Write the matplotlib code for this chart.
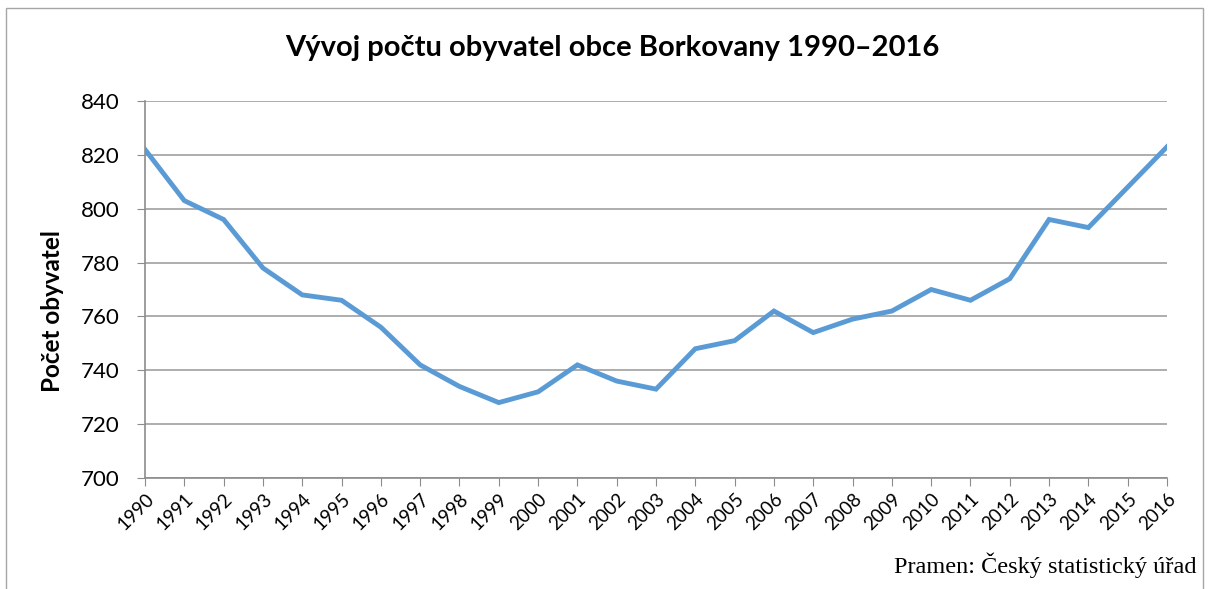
import matplotlib
matplotlib.use("Agg")
from matplotlib import pyplot as plt
from matplotlib.patches import Rectangle

# data
years = [str(y) for y in range(1990, 2017)]
population = [822, 803, 796, 778, 768, 766, 756, 742, 734, 728, 732, 742, 736, 733,
              748, 751, 762, 754, 759, 762, 770, 766, 774, 796, 793, 808, 823]
y_ticks = [700, 720, 740, 760, 780, 800, 820, 840]

W, H = 1212, 589
fig = plt.figure(figsize=(W / 100, H / 100), dpi=100)
ax = fig.add_axes([145 / W, 1 - 478 / H, (1167 - 145) / W, (478 - 101) / H])

# outer chart frame
fig.patches.append(Rectangle((6 / W, -0.1), (1203 - 6) / W, 1.1 - 8 / H,
                             transform=fig.transFigure, fill=False,
                             edgecolor='#a6a6a6', linewidth=1))

x = range(len(years))
ax.plot(x, population, color='#5b9bd5', linewidth=3.5, solid_joinstyle='miter', zorder=3)

ax.set_xlim(0, len(years) - 1)
ax.set_ylim(700, 840)
ax.set_yticks(y_ticks)
ax.set_xticks(list(x))
ax.set_xticklabels(years, rotation=45, ha='right', va='top', rotation_mode='anchor',
                   fontsize=13.5, family='Lato')
for lab in ax.get_yticklabels():
    lab.set_family('Lato')
    lab.set_fontsize(16)

ax.grid(axis='y', color='#a0a0a0', linewidth=1.2)
ax.set_axisbelow(True)
for s in ['top', 'right']:
    ax.spines[s].set_visible(False)
for s in ['left', 'bottom']:
    ax.spines[s].set_color('#8c8c8c')
    ax.spines[s].set_linewidth(1.2)
ax.tick_params(axis='y', length=6, color='#8c8c8c', pad=12)
ax.tick_params(axis='x', length=6, color='#8c8c8c', pad=3)

fig.text(53 / W, 1 - 311 / H, 'Počet obyvatel', rotation=90, ha='center', va='center',
         family='Lato', fontweight='bold', fontsize=17.5)

fig.text(612 / W, 1 - 48 / H, 'Vývoj počtu obyvatel obce Borkovany 1990–2016',
         ha='center', va='center', family='Lato', fontweight='bold', fontsize=21)
fig.text(1197 / W, 1 - 565 / H, 'Pramen: Český statistický úřad',
         ha='right', va='center', family='Liberation Serif', fontsize=17.5)

fig.savefig('out.png', dpi=100)
